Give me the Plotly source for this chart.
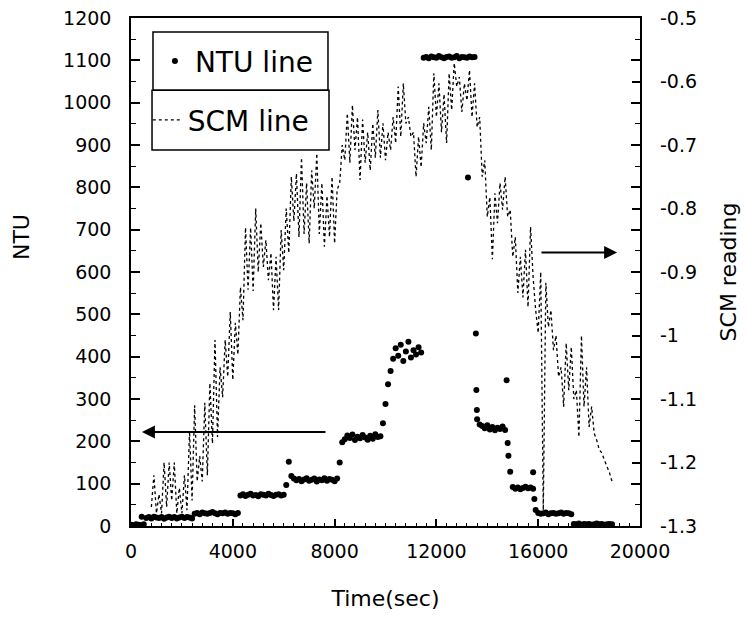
import plotly.graph_objects as go

# ---------------- data ----------------
# NTU readings, sampled every 100 s from 0 to 18900 s
ntu_time = list(range(0, 19000, 100))
ntu_values = (
    [3, 2, 4, 3, 2, 4]                                                     # 0-500
    + [19, 21, 18, 22, 20, 19, 21, 17, 20, 22, 19, 21, 18, 20, 22, 19, 21, 20, 18]  # 600-2400
    + [29, 31, 28, 32, 30, 29, 31, 33, 30, 28, 31, 30, 32, 29, 31, 30, 28, 31]      # 2500-4200
    + [72, 75, 71, 74, 76, 72, 73, 70, 75, 74, 72, 76, 73, 71, 74, 75, 72, 74]      # 4300-6000
    + [97, 152]                                                                    # 6100-6200
    + [118, 112, 108, 111, 106, 110, 113, 107, 109, 112, 105, 110, 108, 113, 107, 111, 109, 106, 112]  # 6300-8100
    + [150, 198]                                                                   # 8200-8300
    + [205, 214, 208, 216, 203, 211, 207, 215, 209, 204, 213, 206, 217, 210, 212]  # 8400-9800
    + [243, 288, 335, 366]                                                         # 9900-10200
    + [395, 420, 402, 428, 390, 412, 435, 398, 415, 405, 422]                      # 10300-11300
    + [410]                                                                        # 11400
    + [1106, 1108, 1105, 1109, 1107, 1106, 1110, 1107, 1105, 1108,
       1109, 1106, 1107, 1110, 1105, 1108, 1107, 1106, 1109, 1107, 1108]           # 11500-13500
    + [252, 240, 236, 231, 238, 228, 234, 226, 232, 229, 235, 227]                 # 13600-14700
    + [196, 128]                                                                   # 14800-14900
    + [92, 88, 91, 87, 90, 93, 89, 91, 88]                                         # 15000-15800
    + [38]                                                                         # 15900
    + [31, 29, 30, 32, 28, 30, 31, 29, 30, 32, 29, 31, 30, 28]                     # 16000-17300
    + [5, 4, 6, 3, 5, 4, 5, 3, 4, 6, 4, 5, 3, 4, 5, 4]                             # 17400-18900
)
# isolated NTU readings taken during the transitions
ntu_extra_time = [420, 13240, 13550, 13570, 13590, 14760, 14830, 15800, 15850]
ntu_extra_values = [22, 823, 455, 321, 274, 344, 166, 127, 64]

# SCM readings, sampled every 100 s from 800 to 18900 s
scm_time = list(range(800, 19000, 100))
scm_values = [
    -1.27, -1.22, -1.28, -1.25, -1.28, -1.20, -1.27, -1.20, -1.26, -1.20,      # 800-1700
    -1.28, -1.24, -1.28, -1.22, -1.275, -1.15, -1.26, -1.11, -1.23, -1.19,     # 1800-2700
    -1.23, -1.106, -1.22, -1.075, -1.17, -1.007, -1.16, -1.05, -1.097, -1.007, # 2800-3700
    -1.065, -0.963, -1.07, -0.98, -1.03, -0.924, -0.976, -0.83, -0.928, -0.83, # 3800-4700
    -0.93, -0.80, -0.90, -0.823, -0.892, -0.85, -0.913, -0.87, -0.96, -0.876,  # 4800-5700
    -0.96, -0.834, -0.897, -0.80, -0.87, -0.75, -0.82, -0.745, -0.845, -0.72,  # 5800-6700
    -0.84, -0.76, -0.855, -0.74, -0.80, -0.713, -0.84, -0.76, -0.86, -0.78,    # 6800-7700
    -0.845, -0.75, -0.855, -0.77, -0.76, -0.70, -0.724, -0.65, -0.728, -0.637, # 7800-8700
    -0.708, -0.656, -0.755, -0.66, -0.728, -0.68, -0.74, -0.666, -0.72, -0.645,# 8800-9700
    -0.72, -0.666, -0.724, -0.68, -0.708, -0.656, -0.697, -0.608, -0.687, -0.603,  # 9800-10700
    -0.666, -0.656, -0.687, -0.68, -0.75, -0.687, -0.735, -0.666, -0.697, -0.64,   # 10800-11700
    -0.708, -0.587, -0.656, -0.603, -0.68, -0.62, -0.697, -0.587, -0.645, -0.571,  # 11800-12700
    -0.608, -0.593, -0.648, -0.603, -0.63, -0.582, -0.656, -0.603, -0.672, -0.656, # 12800-13700
    -0.75, -0.724, -0.813, -0.782, -0.88, -0.776, -0.823, -0.76, -0.802, -0.75,    # 13800-14700
    -0.813, -0.802, -0.876, -0.845, -0.933, -0.876, -0.94, -0.865, -0.955, -0.829, # 14800-15700
    -0.908, -0.96, -0.996, -0.90, -1.275, -0.917, -0.987, -0.96, -1.023, -1.0,     # 15800-16700
    -1.065, -1.05, -1.112, -1.012, -1.086, -1.018, -1.10, -1.086, -1.16, -1.0,     # 16800-17700
    -1.112, -1.05, -1.144, -1.112, -1.154, -1.165, -1.18, -1.185, -1.196, -1.205,  # 17800-18700
    -1.216, -1.23,                                                                  # 18800-18900
]

assert len(ntu_time) == len(ntu_values)
assert len(scm_time) == len(scm_values)
assert len(ntu_extra_time) == len(ntu_extra_values)

# axis ticks
ntu_ticks = [0, 100, 200, 300, 400, 500, 600, 700, 800, 900, 1000, 1100, 1200]
scm_ticks = [-1.3, -1.2, -1.1, -1.0, -0.9, -0.8, -0.7, -0.6, -0.5]
scm_tick_labels = ["-1.3", "-1.2", "-1.1", "-1", "-0.9", "-0.8", "-0.7", "-0.6", "-0.5"]

FONT = "DejaVu Sans, Verdana, sans-serif"

fig = go.Figure()

fig.add_trace(go.Scatter(
    x=ntu_time + ntu_extra_time,
    y=ntu_values + ntu_extra_values,
    mode="markers",
    name="NTU line",
    marker=dict(color="black", size=6, line=dict(width=0)),
    yaxis="y",
    legend="legend",
))

fig.add_trace(go.Scatter(
    x=scm_time,
    y=scm_values,
    mode="lines",
    name="SCM line",
    line=dict(color="black", width=1.3, dash="dot"),
    yaxis="y2",
    legend="legend2",
))

# legend frames (two stacked boxes as in the original)
box_line = dict(color="black", width=1.5)
shapes = [
    dict(type="rect", xref="paper", yref="paper", x0=0.0432, x1=0.387, y0=0.858, y1=0.9724,
         line=box_line, fillcolor="white", layer="above"),
    dict(type="rect", xref="paper", yref="paper", x0=0.0413, x1=0.389, y0=0.740, y1=0.858,
         line=box_line, fillcolor="white", layer="above"),
]

annotations = [
    # arrow pointing to the NTU axis
    dict(x=430, y=222, ax=7700, ay=222, xref="x", yref="y", axref="x", ayref="y",
         text="", showarrow=True, arrowhead=2, arrowsize=1.3, arrowwidth=2, arrowcolor="black"),
    # arrow pointing to the SCM axis
    dict(x=19100, y=646, ax=16070, ay=646, xref="x", yref="y", axref="x", ayref="y",
         text="", showarrow=True, arrowhead=2, arrowsize=1.3, arrowwidth=2, arrowcolor="black"),
    # left axis title
    dict(text="NTU", xref="paper", yref="paper", x=-0.214, y=0.569, showarrow=False,
         textangle=-90, xanchor="center", yanchor="middle",
         font=dict(family=FONT, size=22, color="black")),
]

fig.update_layout(
    width=746, height=617,
    margin=dict(l=131, r=106, t=18, b=91, autoexpand=False),
    paper_bgcolor="white", plot_bgcolor="white",
    font=dict(family=FONT, size=19, color="black"),
    showlegend=True,
    shapes=shapes,
    annotations=annotations,
    legend=dict(x=0.047, y=0.915, xanchor="left", yanchor="middle",
                bgcolor="rgba(0,0,0,0)", borderwidth=0,
                font=dict(family=FONT, size=28, color="black")),
    legend2=dict(x=0.033, y=0.799, xanchor="left", yanchor="middle",
                 bgcolor="rgba(0,0,0,0)", borderwidth=0,
                 font=dict(family=FONT, size=28, color="black")),
    xaxis=dict(
        range=[0, 20000], tickmode="linear", tick0=0, dtick=4000, tickformat="d",
        ticks="inside", ticklen=7, tickwidth=1.5, tickcolor="black",
        minor=dict(ticks="inside", ticklen=3, dtick=400, tickcolor="black", tickwidth=1),
        showline=True, linewidth=1.5, linecolor="black", mirror=True,
        showgrid=False, zeroline=False, ticklabelstandoff=7, automargin=False,
        title=dict(text="Time(sec)", font=dict(family=FONT, size=22, color="black"), standoff=30),
    ),
    yaxis=dict(
        range=[0, 1200], tickmode="array", tickvals=ntu_ticks,
        ticks="inside", ticklen=9, tickwidth=1.5, tickcolor="black",
        minor=dict(ticks="inside", ticklen=5, dtick=50, tickcolor="black", tickwidth=1),
        showline=True, linewidth=1.5, linecolor="black", mirror="ticks",
        showgrid=False, zeroline=False, ticklabelstandoff=14, automargin=False,
    ),
    yaxis2=dict(
        range=[-1.3, -0.5], overlaying="y", side="right",
        tickmode="array", tickvals=scm_ticks, ticktext=scm_tick_labels,
        ticks="inside", ticklen=8, tickwidth=1.5, tickcolor="black",
        showline=False, showgrid=False, zeroline=False, ticklabelstandoff=19, automargin=False,
        title=dict(text="SCM reading", font=dict(family=FONT, size=22, color="black"), standoff=24),
    ),
)

# remove the browser's default 8px page margin so the figure sits at (0, 0)
fig.write_html("out.html", config={"displayModeBar": False},
               post_script="document.body.style.margin='0';")
